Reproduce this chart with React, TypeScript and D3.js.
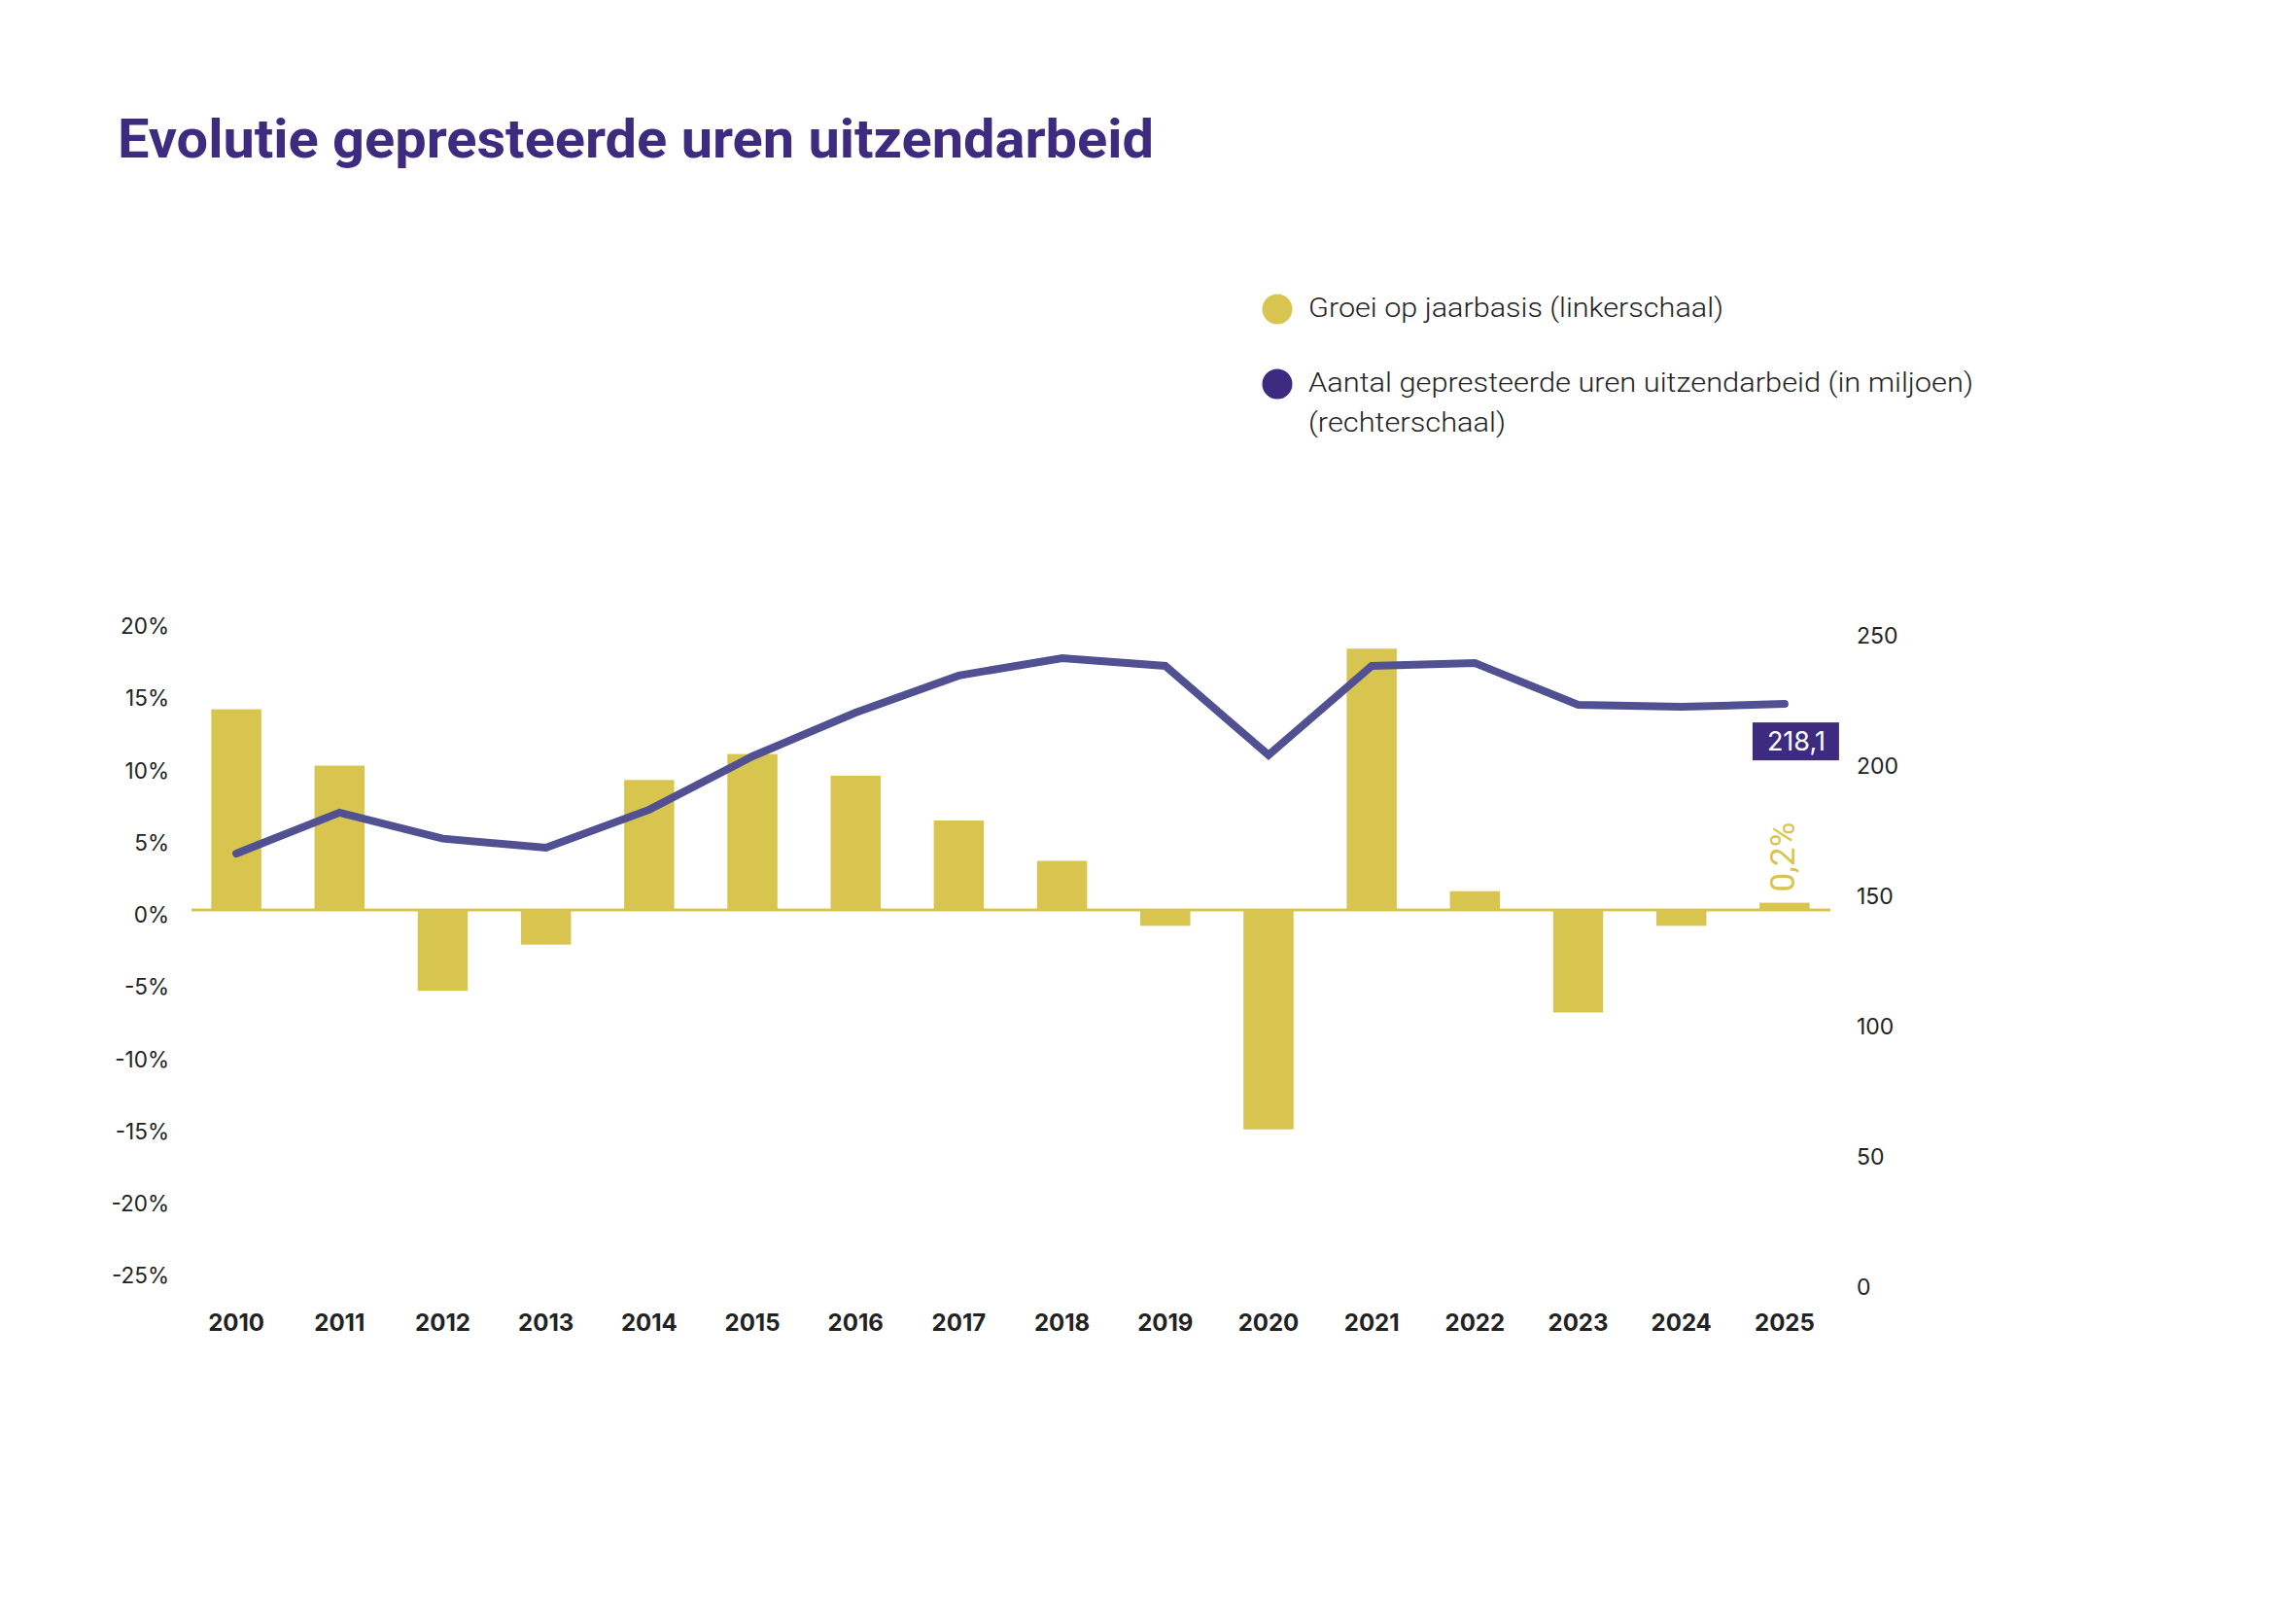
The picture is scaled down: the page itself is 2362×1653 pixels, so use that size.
import React from "react";
import * as d3 from "d3";

const years = ["2010","2011","2012","2013","2014","2015","2016","2017","2018","2019","2020","2021","2022","2023","2024","2025"];
const growthPct = [13.9, 10.0, -5.6, -2.4, 9.0, 10.8, 9.3, 6.2, 3.4, -1.1, -15.2, 18.1, 1.3, -7.1, -1.1, 0.5];
const hoursMillion = [164.2, 179.9, 169.9, 166.4, 181.0, 201.5, 218.3, 232.5, 239.2, 236.2, 202.0, 236.2, 237.3, 221.3, 220.5, 221.6];
const leftTicks = [20, 15, 10, 5, 0, -5, -10, -15, -20, -25];
const rightTicks = [0, 50, 100, 150, 200, 250];
const lastValueLabel = "218,1";
const lastGrowthLabel = "0,2%";
const title = "Evolutie gepresteerde uren uitzendarbeid";
const legendGrowth = "Groei op jaarbasis (linkerschaal)";
const legendHours1 = "Aantal gepresteerde uren uitzendarbeid (in miljoen)";
const legendHours2 = "(rechterschaal)";

const YELLOW = "#D8C54F";
const PURPLE = "#3D2B80";
const LINE = "#515093";
const TEXT = "#222222";
const FONT = "Inter, 'Noto Sans', sans-serif";

export default function App() {
  const W = 2362, H = 1653;
  const x = d3.scaleBand<string>().domain(years).range([190, 1889]).paddingInner(0.515).paddingOuter(0.2575);
  const yL = d3.scaleLinear().domain([-25, 20]).range([1307.25, 639]);
  const yR = d3.scaleLinear().domain([0, 250]).range([1318, 648]);
  const cx = (y: string) => (x(y) as number) + x.bandwidth() / 2;

  const line = d3.line<number>()
    .x((_, i) => cx(years[i]))
    .y((v) => yR(v));

  const lastYear = years[years.length - 1];
  const lastX = cx(lastYear);
  const lastY = yR(hoursMillion[hoursMillion.length - 1]);
  const lastG = growthPct[growthPct.length - 1];

  return (
    <svg width={W} height={H} viewBox={`0 0 ${W} ${H}`} style={{ position: "absolute", left: 0, top: 0, background: "#fff" }}>
      <rect x={0} y={0} width={W} height={H} fill="#fff" />
      <text x={121} y={162} fontFamily="Roboto, Inter, sans-serif" fontWeight={700} fontSize={55} fill={PURPLE}
        textLength={1066} lengthAdjust="spacingAndGlyphs">{title}</text>

      {/* legend */}
      <circle cx={1314} cy={318} r={15.5} fill={YELLOW} />
      <text x={1346} y={326} fontFamily="Roboto, sans-serif" fontWeight={300} fontSize={27} fill={TEXT}
        textLength={427} lengthAdjust="spacingAndGlyphs">{legendGrowth}</text>
      <circle cx={1314} cy={395} r={15.5} fill={PURPLE} />
      <text x={1346} y={403} fontFamily="Roboto, sans-serif" fontWeight={300} fontSize={27} fill={TEXT}
        textLength={684} lengthAdjust="spacingAndGlyphs">{legendHours1}</text>
      <text x={1346} y={444} fontFamily="Roboto, sans-serif" fontWeight={300} fontSize={27} fill={TEXT}
        textLength={203} lengthAdjust="spacingAndGlyphs">{legendHours2}</text>

      {/* left axis */}
      {leftTicks.map((t) => (
        <text key={"l" + t} x={174} y={yL(t) + 13} textAnchor="end" fontFamily={FONT} fontSize={22.5} fill={TEXT}>
          {`${t}%`}
        </text>
      ))}
      {/* right axis */}
      {rightTicks.map((t) => (
        <text key={"r" + t} x={1910} y={yR(t) + 13.5} textAnchor="start" fontFamily={FONT} fontSize={23} fill={TEXT}>
          {t}
        </text>
      ))}

      {/* bars */}
      {years.map((yr, i) => {
        const v = growthPct[i];
        const y0 = yL(0), y1 = yL(v);
        return (
          <rect key={"b" + yr} x={x(yr)} y={Math.min(y0, y1)} width={x.bandwidth()} height={Math.abs(y1 - y0)} fill={YELLOW} />
        );
      })}
      <line x1={197} x2={1883} y1={yL(0)} y2={yL(0)} stroke={YELLOW} strokeWidth={3} />

      {/* line */}
      <path d={line(hoursMillion) || ""} fill="none" stroke={LINE} strokeWidth={8} strokeLinecap="round" strokeLinejoin="miter" />

      {/* x labels */}
      {years.map((yr) => (
        <text key={"x" + yr} x={cx(yr)} y={1369} textAnchor="middle" fontFamily={FONT} fontWeight={700} fontSize={24} fill={TEXT}>
          {yr}
        </text>
      ))}

      {/* last value label */}
      <rect x={lastX - 33} y={lastY + 19} width={89} height={39} fill={PURPLE} />
      <text x={lastX + 12} y={lastY + 48} textAnchor="middle" fontFamily={FONT} fontSize={27} fill="#fff">{lastValueLabel}</text>

      {/* 0,2% rotated label */}
      <text transform={`translate(${lastX + 10}, ${yL(lastG) - 11}) rotate(-90)`} textAnchor="start" fontFamily="Roboto, sans-serif"
        fontWeight={400} fontSize={35} fill={YELLOW}>{lastGrowthLabel}</text>
    </svg>
  );
}
